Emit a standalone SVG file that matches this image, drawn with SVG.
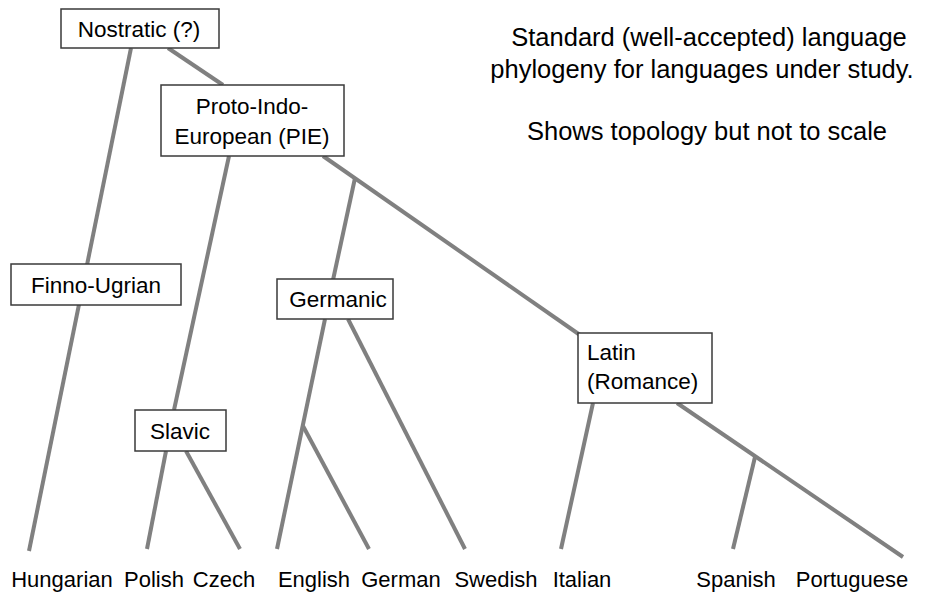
<svg xmlns="http://www.w3.org/2000/svg" width="929" height="593" viewBox="0 0 929 593">
<style>
.edge{stroke:#808080;stroke-width:4;fill:none}
.box{fill:#fff;stroke:#3a3a3a;stroke-width:1.5}
text{font-family:"Liberation Sans",Arial,sans-serif;fill:#000}
.n{font-size:22.5px;text-anchor:middle}
.lbl{font-size:22px;text-anchor:middle}
.note{font-size:25.5px;text-anchor:middle}
</style>
<rect width="929" height="593" fill="#fff"/>
<g id="connectors">
<line class="edge" x1="131" y1="48" x2="29" y2="551"/>
<line class="edge" x1="168" y1="48" x2="223" y2="85"/>
<line class="edge" x1="229" y1="156" x2="174" y2="410"/>
<line class="edge" x1="166" y1="451" x2="147" y2="549"/>
<line class="edge" x1="186" y1="451" x2="240" y2="549"/>
<line class="edge" x1="323" y1="156" x2="580" y2="335"/>
<line class="edge" x1="355" y1="178" x2="333" y2="280"/>
<line class="edge" x1="325" y1="319" x2="277" y2="549"/>
<line class="edge" x1="303" y1="426" x2="369" y2="549"/>
<line class="edge" x1="348" y1="319" x2="465" y2="549"/>
<line class="edge" x1="593" y1="403" x2="561" y2="549"/>
<line class="edge" x1="677" y1="403" x2="903" y2="557"/>
<line class="edge" x1="755" y1="457" x2="733" y2="549"/>
</g>
<g id="nostratic"><rect class="box" x="61" y="9" width="158" height="39"/><text class="n" x="139" y="36.5">Nostratic (?)</text></g>
<g id="pie"><rect class="box" x="161" y="85" width="183" height="71"/><text class="n" x="252" y="114">Proto-Indo-</text><text class="n" x="252" y="144">European (PIE)</text></g>
<g id="finno-ugrian"><rect class="box" x="11" y="264" width="170" height="41"/><text class="n" x="96" y="292.5">Finno-Ugrian</text></g>
<g id="slavic"><rect class="box" x="135" y="410" width="91" height="41"/><text class="n" x="180" y="438.5">Slavic</text></g>
<g id="germanic"><rect class="box" x="277" y="279" width="116" height="40"/><text class="n" x="338" y="307">Germanic</text></g>
<g id="latin"><rect class="box" x="578" y="333" width="134" height="70"/><text class="n" x="587" y="360" style="text-anchor:start">Latin</text><text class="n" x="587" y="389" style="text-anchor:start">(Romance)</text></g>
<g id="hungarian"><text class="lbl" x="62" y="587">Hungarian</text></g>
<g id="polish"><text class="lbl" x="154" y="587">Polish</text></g>
<g id="czech"><text class="lbl" x="224" y="587">Czech</text></g>
<g id="english"><text class="lbl" x="314" y="587">English</text></g>
<g id="german"><text class="lbl" x="401" y="587">German</text></g>
<g id="swedish"><text class="lbl" x="496" y="587">Swedish</text></g>
<g id="italian"><text class="lbl" x="582" y="587">Italian</text></g>
<g id="spanish"><text class="lbl" x="736" y="587">Spanish</text></g>
<g id="portuguese"><text class="lbl" x="852" y="587">Portuguese</text></g>
<g id="note">
<text class="note" x="709" y="46">Standard (well-accepted) language</text>
<text class="note" x="702" y="78">phylogeny for languages under study.</text>
<text class="note" x="707" y="140">Shows topology but not to scale</text>
</g>
</svg>
